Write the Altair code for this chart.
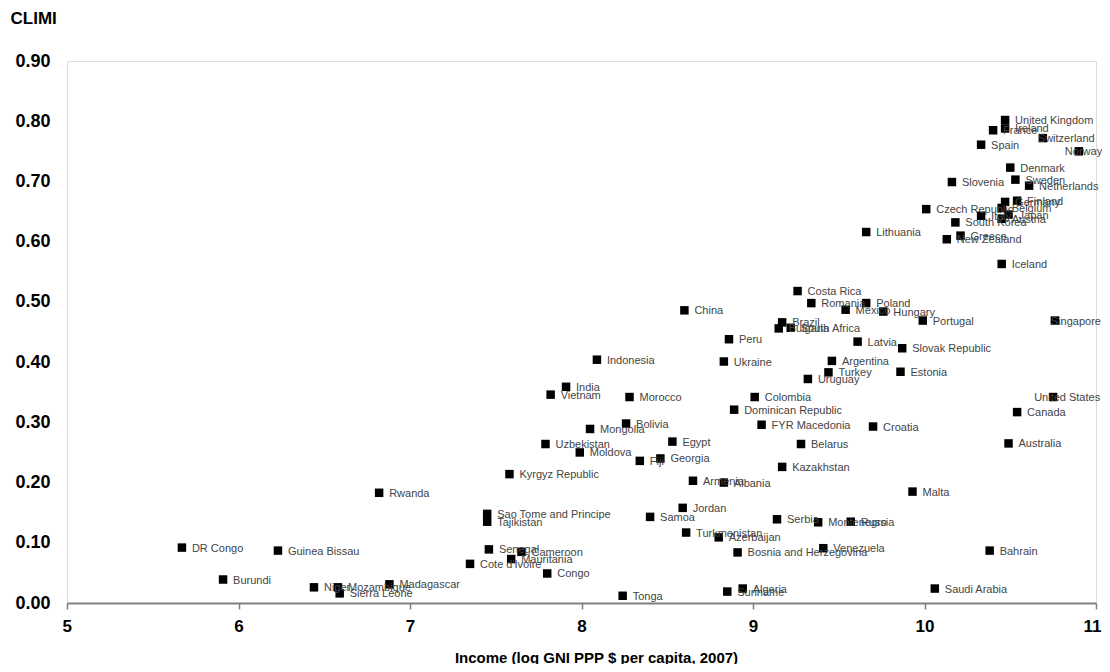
import altair as alt
import pandas as pd

countries = [
    "United Kingdom", "Ireland", "France", "Switzerland", "Norway", "Spain",
    "Denmark", "Slovenia", "Sweden", "Netherlands", "Germany", "Finland",
    "Belgium", "Italy", "Japan", "Austria", "Czech Republic", "South Korea",
    "Greece", "New Zealand", "Lithuania", "Iceland",
    "Costa Rica", "Romania", "Poland", "Mexico", "Hungary", "China", "Brazil",
    "Bulgaria", "South Africa", "Peru", "Latvia", "Slovak Republic", "Ukraine",
    "Argentina", "Turkey", "Estonia", "Uruguay", "Colombia",
    "Dominican Republic", "FYR Macedonia", "Croatia", "Morocco", "Indonesia",
    "Portugal", "Singapore", "United States", "Canada", "Australia",
    "India", "Vietnam", "Bolivia", "Mongolia", "Egypt", "Uzbekistan",
    "Moldova", "Fiji", "Georgia", "Kyrgyz Republic", "Belarus", "Kazakhstan",
    "Armenia", "Albania", "Jordan",
    "Rwanda", "DR Congo", "Guinea Bissau", "Burundi", "Niger", "Mozambique",
    "Sierra Leone", "Madagascar",
    "Sao Tome and Principe", "Tajikistan", "Samoa", "Turkmenistan", "Senegal",
    "Cameroon", "Mauritania", "Cote d'Ivoire", "Congo", "Tonga",
    "Malta", "Serbia", "Montenegro", "Russia", "Azerbaijan",
    "Bosnia and Herzegovina", "Venezuela", "Bahrain", "Suriname", "Algeria",
    "Saudi Arabia",
]

income = [
    10.47, 10.47, 10.40, 10.69, 10.90, 10.33,
    10.50, 10.16, 10.53, 10.61, 10.47, 10.54,
    10.45, 10.33, 10.49, 10.45, 10.01, 10.18,
    10.21, 10.13, 9.66, 10.45,
    9.26, 9.34, 9.66, 9.54, 9.76, 8.60, 9.17,
    9.15, 9.22, 8.86, 9.61, 9.87, 8.83,
    9.46, 9.44, 9.86, 9.32, 9.01,
    8.89, 9.05, 9.70, 8.28, 8.09,
    9.99, 10.76, 10.75, 10.54, 10.49,
    7.91, 7.82, 8.26, 8.05, 8.53, 7.79,
    7.99, 8.34, 8.46, 7.58, 9.28, 9.17,
    8.65, 8.83, 8.59,
    6.82, 5.67, 6.23, 5.91, 6.44, 6.58,
    6.59, 6.88,
    7.45, 7.45, 8.40, 8.61, 7.46,
    7.65, 7.59, 7.35, 7.80, 8.24,
    9.93, 9.14, 9.38, 9.57, 8.80,
    8.91, 9.41, 10.38, 8.85, 8.94,
    10.06,
]

climi = [
    0.802, 0.788, 0.785, 0.772, 0.750, 0.761,
    0.723, 0.699, 0.703, 0.693, 0.666, 0.668,
    0.656, 0.643, 0.645, 0.638, 0.654, 0.632,
    0.610, 0.604, 0.616, 0.563,
    0.518, 0.498, 0.498, 0.487, 0.484, 0.486, 0.466,
    0.456, 0.457, 0.438, 0.434, 0.423, 0.401,
    0.402, 0.383, 0.384, 0.372, 0.342,
    0.321, 0.296, 0.293, 0.342, 0.404,
    0.469, 0.469, 0.342, 0.317, 0.265,
    0.359, 0.346, 0.298, 0.289, 0.268, 0.264,
    0.250, 0.236, 0.240, 0.214, 0.264, 0.226,
    0.203, 0.200, 0.158,
    0.183, 0.092, 0.087, 0.039, 0.026, 0.026,
    0.016, 0.031,
    0.148, 0.135, 0.143, 0.117, 0.089,
    0.085, 0.073, 0.065, 0.049, 0.012,
    0.185, 0.139, 0.134, 0.135, 0.109,
    0.084, 0.091, 0.087, 0.019, 0.024,
    0.024,
]

# labels near the right edge are pulled left (as in the original) so they fit
label_shift = {"Norway": -14, "Singapore": -4, "United States": -19, "Switzerland": -5}
default_dx = 10

df = pd.DataFrame({"country": countries, "income": income, "climi": climi})

x_enc = alt.X(
    "income:Q",
    scale=alt.Scale(domain=[5, 11], nice=False, zero=False),
    axis=alt.Axis(
        values=[5, 6, 7, 8, 9, 10, 11],
        format="d",
        grid=False,
        domainColor="#808080",
        domainWidth=2,
        tickColor="#808080",
        tickWidth=1.5,
        tickSize=6,
        labelFont="Liberation Sans",
        labelFontWeight="bold",
        labelFontSize=17,
        labelColor="#000000",
        labelPadding=9,
        labelOverlap=False,
        labelFlush=True,
        labelFlushOffset=5,
        title="Income (log GNI PPP $ per capita, 2007)",
        titleFont="Liberation Sans",
        titleFontWeight="bold",
        titleFontSize=15,
        titleColor="#000000",
        titleX=529,
        titleY=54,
        titleBaseline="middle",
        titleAnchor="middle",
    ),
)

y_enc = alt.Y(
    "climi:Q",
    scale=alt.Scale(domain=[0, 0.9], nice=False),
    axis=alt.Axis(
        values=[0, 0.1, 0.2, 0.3, 0.4, 0.5, 0.6, 0.7, 0.8, 0.9],
        format=".2f",
        grid=False,
        domain=False,
        ticks=False,
        labelFont="Liberation Sans",
        labelFontWeight="bold",
        labelFontSize=18,
        labelColor="#000000",
        labelPadding=17,
        title="CLIMI",
        titleFont="Liberation Sans",
        titleFontWeight="bold",
        titleFontSize=17,
        titleColor="#000000",
        titleAngle=0,
        titleAlign="left",
        titleBaseline="middle",
        titleX=-57,
        titleY=-43,
    ),
)

points = alt.Chart(df).mark_square(size=72, color="#000000", opacity=1).encode(
    x=x_enc, y=y_enc
)

text_style = dict(
    align="left",
    baseline="middle",
    dy=1,
    font="Liberation Sans",
    fontSize=11,
    color="#444444",
)

normal = df[~df["country"].isin(list(label_shift))]
layers = [
    points,
    alt.Chart(normal).mark_text(dx=default_dx, **text_style).encode(
        x="income:Q", y="climi:Q", text="country:N"
    ),
]
for name, shift in label_shift.items():
    sub = df[df["country"] == name]
    layers.append(
        alt.Chart(sub).mark_text(dx=shift, **text_style).encode(
            x="income:Q", y="climi:Q", text="country:N"
        )
    )

chart = (
    alt.layer(*layers)
    .properties(
        width=1029,
        height=542,
        padding={"left": 59, "top": 53, "right": 6, "bottom": 61},
        autosize=alt.AutoSizeParams(type="none"),
    )
    .configure_view(strokeWidth=0)
    .configure(background="#ffffff")
)

chart.save("out.html", embed_options={"renderer": "svg", "actions": False})
